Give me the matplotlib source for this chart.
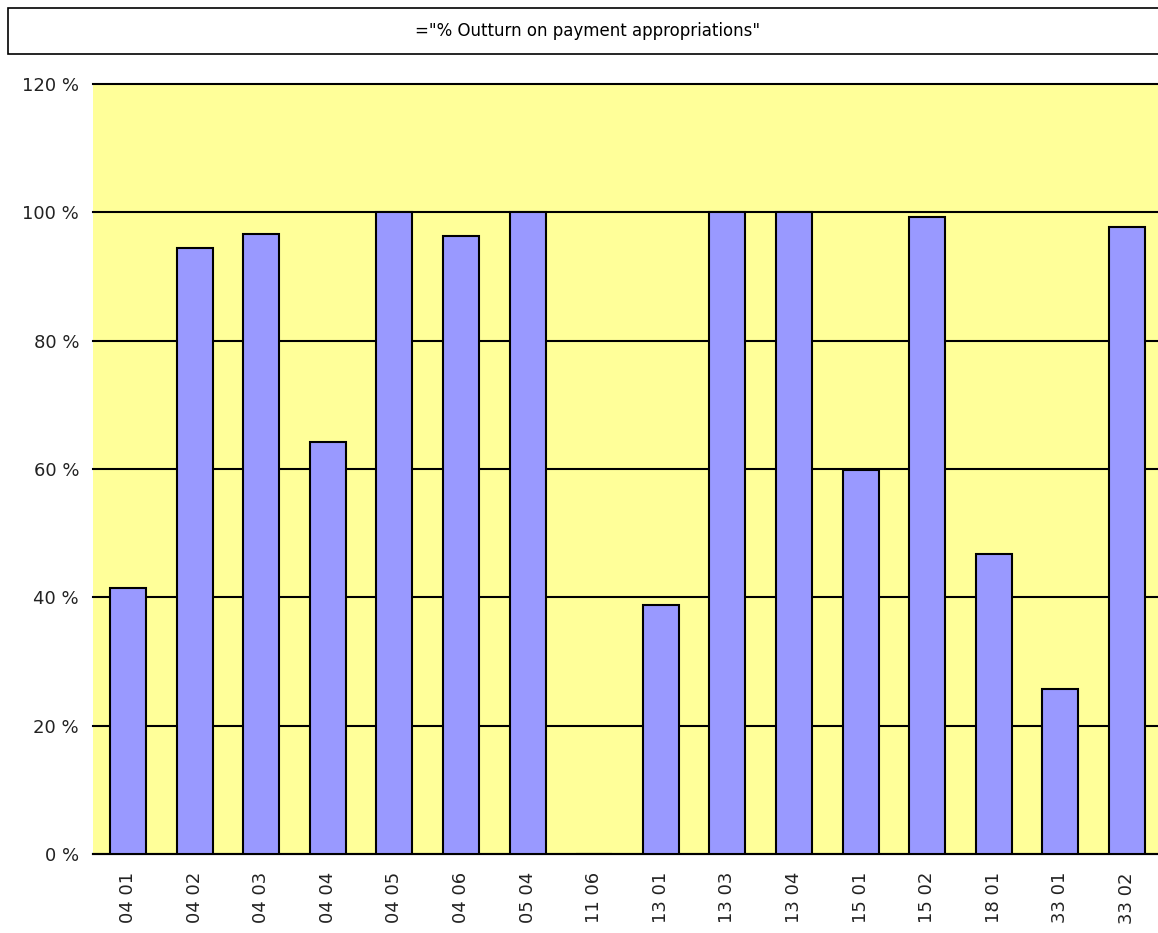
import matplotlib
matplotlib.use('Agg')
import matplotlib.pyplot as plt
from matplotlib.patches import Rectangle

# Budget lines and their payment outturn (%)
categories = ['04 01', '04 02', '04 03', '04 04', '04 05', '04 06', '05 04', '11 06',
              '13 01', '13 03', '13 04', '15 01', '15 02', '18 01', '33 01', '33 02']
outturn = [41.5, 94.4, 96.6, 64.2, 100.0, 96.3, 100.0, 0.0,
           38.8, 100.0, 100.0, 59.8, 99.3, 46.8, 25.7, 97.7]
y_ticks = [0, 20, 40, 60, 80, 100, 120]
title = '="% Outturn on payment appropriations"'

W, H = 1158, 933
fig = plt.figure(figsize=(W / 100, H / 100), dpi=100)

# plot area runs a little past the right edge, like the original
ax = fig.add_axes([93 / W, (H - 854) / H, 1069 / W, 770 / H])
ax.set_facecolor('#FFFF99')

x = range(len(categories))
ax.bar(x, outturn, width=0.54, color='#9999FF', edgecolor='black', linewidth=1.5, zorder=3)

ax.set_xlim(-0.525, len(categories) - 0.475)
ax.set_ylim(0, 120)
ax.set_yticks(y_ticks)
ax.set_yticklabels([f'{t} %' for t in y_ticks], fontsize=13, color='#222222')
ax.set_xticks(list(x))
ax.set_xticklabels(categories, rotation=90, fontsize=13, color='#222222')
ax.tick_params(length=0, pad=10)
ax.tick_params(axis='x', pad=13)

# gridlines, not clipped so the top one keeps its full width
for t in y_ticks:
    ax.axhline(t, color='black', linewidth=1.5, zorder=2, clip_on=False)

for s in ['left', 'right', 'top']:
    ax.spines[s].set_visible(False)
ax.spines['bottom'].set_color('black')
ax.spines['bottom'].set_linewidth(1.5)

# title box
fig.patches.append(Rectangle((8 / W, (H - 54) / H), 1.0, 46 / H, transform=fig.transFigure,
                             facecolor='white', edgecolor='black', linewidth=1.2))
fig.text(588 / W, (H - 31) / H, title, ha='center', va='center', fontsize=12,
         color='black')

fig.savefig('out.png', dpi=100)
